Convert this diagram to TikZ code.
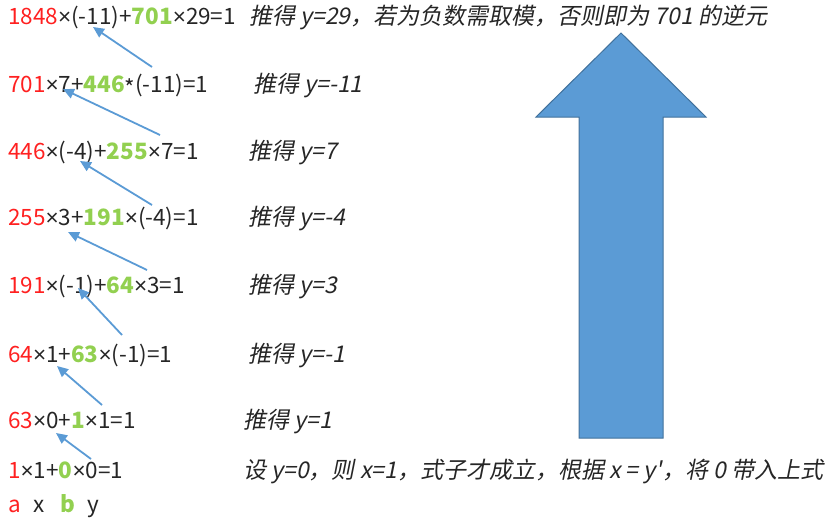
\documentclass[tikz,border=0pt]{standalone}
\usepackage{fontspec}
\setmainfont{Noto Sans CJK SC}
\newfontfamily\slantcjk[FakeSlant=0.2]{Noto Sans CJK SC}
\newfontfamily\mulfont{Liberation Sans}
\usetikzlibrary{arrows.meta}
\definecolor{numred}{HTML}{FF2020}
\definecolor{numgreen}{HTML}{92D050}
\definecolor{arrowblue}{HTML}{5B9BD5}
\definecolor{arrowedge}{HTML}{41719C}
\definecolor{txtgray}{HTML}{262626}
\newcommand{\anum}[1]{\textcolor{numred}{#1}}
\newcommand{\bnum}[1]{\textcolor{numgreen}{\bfseries #1}}
\newcommand{\mul}{{\mulfont ×}}
\newcommand{\lowstar}{\raisebox{-0.35ex}{*}}
\tikzset{
  eq/.style={anchor=base west, inner sep=0pt, text=txtgray, font=\fontsize{22.5}{27}\selectfont},
  note/.style={anchor=base west, inner sep=0pt, text=txtgray, font=\slantcjk\fontsize{23}{27}\selectfont},
  back/.style={-{Triangle[length=11pt,width=10pt]}, arrowblue, line width=1.8pt},
  bigarrow/.style={fill=arrowblue, draw=arrowedge, line width=1pt}
}

\begin{document}
\begin{tikzpicture}[x=1pt,y=-1pt]
        \useasboundingbox (0,0) rectangle (827,522);

        % Equations, bottom row first read upwards
        \node[eq] (eq1) at (8,24) {\anum{1848}\mul(-11)+\bnum{701}\mul29=1};
        \node[eq] (eq2) at (8,92) {\anum{701}\mul7+\bnum{446}\lowstar(-11)=1};
        \node[eq] (eq3) at (8,159) {\anum{446}\mul(-4)+\bnum{255}\mul7=1};
        \node[eq] (eq4) at (8,225) {\anum{255}\mul3+\bnum{191}\mul(-4)=1};
        \node[eq] (eq5) at (8,293) {\anum{191}\mul(-1)+\bnum{64}\mul3=1};
        \node[eq] (eq6) at (8,362) {\anum{64}\mul1+\bnum{63}\mul(-1)=1};
        \node[eq] (eq7) at (8,428) {\anum{63}\mul0+\bnum{1}\mul1=1};
        \node[eq] (eq8) at (8,478) {\anum{1}\mul1+\bnum{0}\mul0=1};

        % Legend of the letters
        \node[eq] (la) at (8,512) {\anum{a}};
        \node[eq] (lx) at (33,512) {x};
        \node[eq] (lb) at (60,512) {\bnum{b}};
        \node[eq] (ly) at (87,512) {y};

        % Notes on the right
        \node[note] (n1) at (249,24) {推得 y=29，若为负数需取模，否则即为 701 的逆元};
        \node[note] (n2) at (253,92) {推得 y=-11};
        \node[note] (n3) at (248,159) {推得 y=7};
        \node[note] (n4) at (248,225) {推得 y=-4};
        \node[note] (n5) at (248,293) {推得 y=3};
        \node[note] (n6) at (248,362) {推得 y=-1};
        \node[note] (n7) at (243,428) {推得 y=1};
        \node[note] (n8) at (243,478) {设 y=0，则 x=1，式子才成立，根据 x = y'，将 0 带入上式};

        % End points of the back-substitution arrows
        \coordinate (t1) at (152,67);  \coordinate (h1) at (93,27);
        \coordinate (t2) at (160,135); \coordinate (h2) at (63,89);
        \coordinate (t3) at (152,205); \coordinate (h3) at (80,161);
        \coordinate (t4) at (147,270); \coordinate (h4) at (68,232);
        \coordinate (t5) at (122,335); \coordinate (h5) at (78,288);
        \coordinate (t6) at (102,405); \coordinate (h6) at (57,366);
        \coordinate (t7) at (91,459);  \coordinate (h7) at (56,433);

        % Draw the arrows
        \draw[back] (t1) -- (h1);
        \draw[back] (t2) -- (h2);
        \draw[back] (t3) -- (h3);
        \draw[back] (t4) -- (h4);
        \draw[back] (t5) -- (h5);
        \draw[back] (t6) -- (h6);
        \draw[back] (t7) -- (h7);

        % Big upward arrow
        \draw[bigarrow] (621,33) -- (706,117) -- (663,117) -- (663,438)
            -- (579,438) -- (579,117) -- (536,117) -- cycle;
    \end{tikzpicture}
\end{document}
